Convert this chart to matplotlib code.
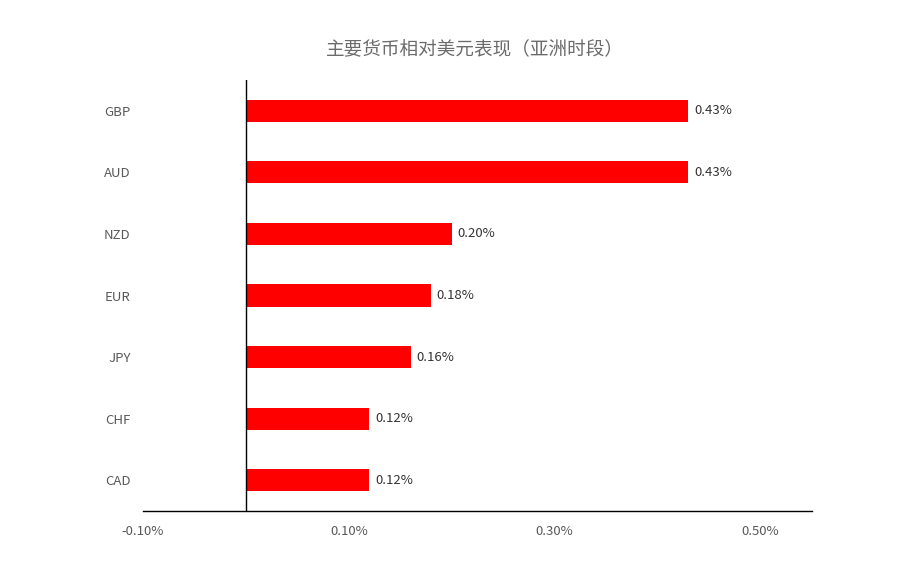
import matplotlib
matplotlib.use("Agg")
import matplotlib.pyplot as plt
from matplotlib.ticker import FuncFormatter

plt.rcParams['font.family'] = ['Noto Sans CJK SC', 'DejaVu Sans']

categories = ["GBP", "AUD", "NZD", "EUR", "JPY", "CHF", "CAD"]
values = [0.43, 0.43, 0.20, 0.18, 0.16, 0.12, 0.12]
labels = ["0.43%", "0.43%", "0.20%", "0.18%", "0.16%", "0.12%", "0.12%"]
xticks = [-0.10, 0.10, 0.30, 0.50]
title = "主要货币相对美元表现（亚洲时段）"

fig = plt.figure(figsize=(9.03, 5.83), dpi=100)
ax = fig.add_axes([143/903, 1 - 511/583, (812-143)/903, (511-80)/583])

ypos = list(range(len(categories)))
ax.barh(ypos, values, height=0.36, color="#FF0000")
ax.set_ylim(len(categories) - 0.5, -0.5)
ax.set_xlim(-0.10, 0.55)

for y, v, lab in zip(ypos, values, labels):
    ax.annotate(lab, (v, y), xytext=(4, 0), textcoords="offset points",
                va="center", ha="left", fontsize=9.5, color="#333333")

ax.axvline(0, color="black", lw=1)
for s in ["top", "right", "left"]:
    ax.spines[s].set_visible(False)
ax.spines["bottom"].set_color("black")
ax.spines["bottom"].set_linewidth(1)

ax.set_xticks(xticks)
ax.xaxis.set_major_formatter(FuncFormatter(lambda x, p: f"{x:.2f}%"))
ax.set_yticks(ypos)
ax.set_yticklabels(categories)
ax.tick_params(axis="both", length=0, labelsize=9.5, labelcolor="#595959")
ax.tick_params(axis="y", pad=9)
ax.tick_params(axis="x", pad=10)

fig.text(475/903, 1 - 50/583, title, ha="center", va="center",
         fontsize=13.4, color="#6b6b6b")

fig.savefig("out.png", dpi=100, facecolor="white")
